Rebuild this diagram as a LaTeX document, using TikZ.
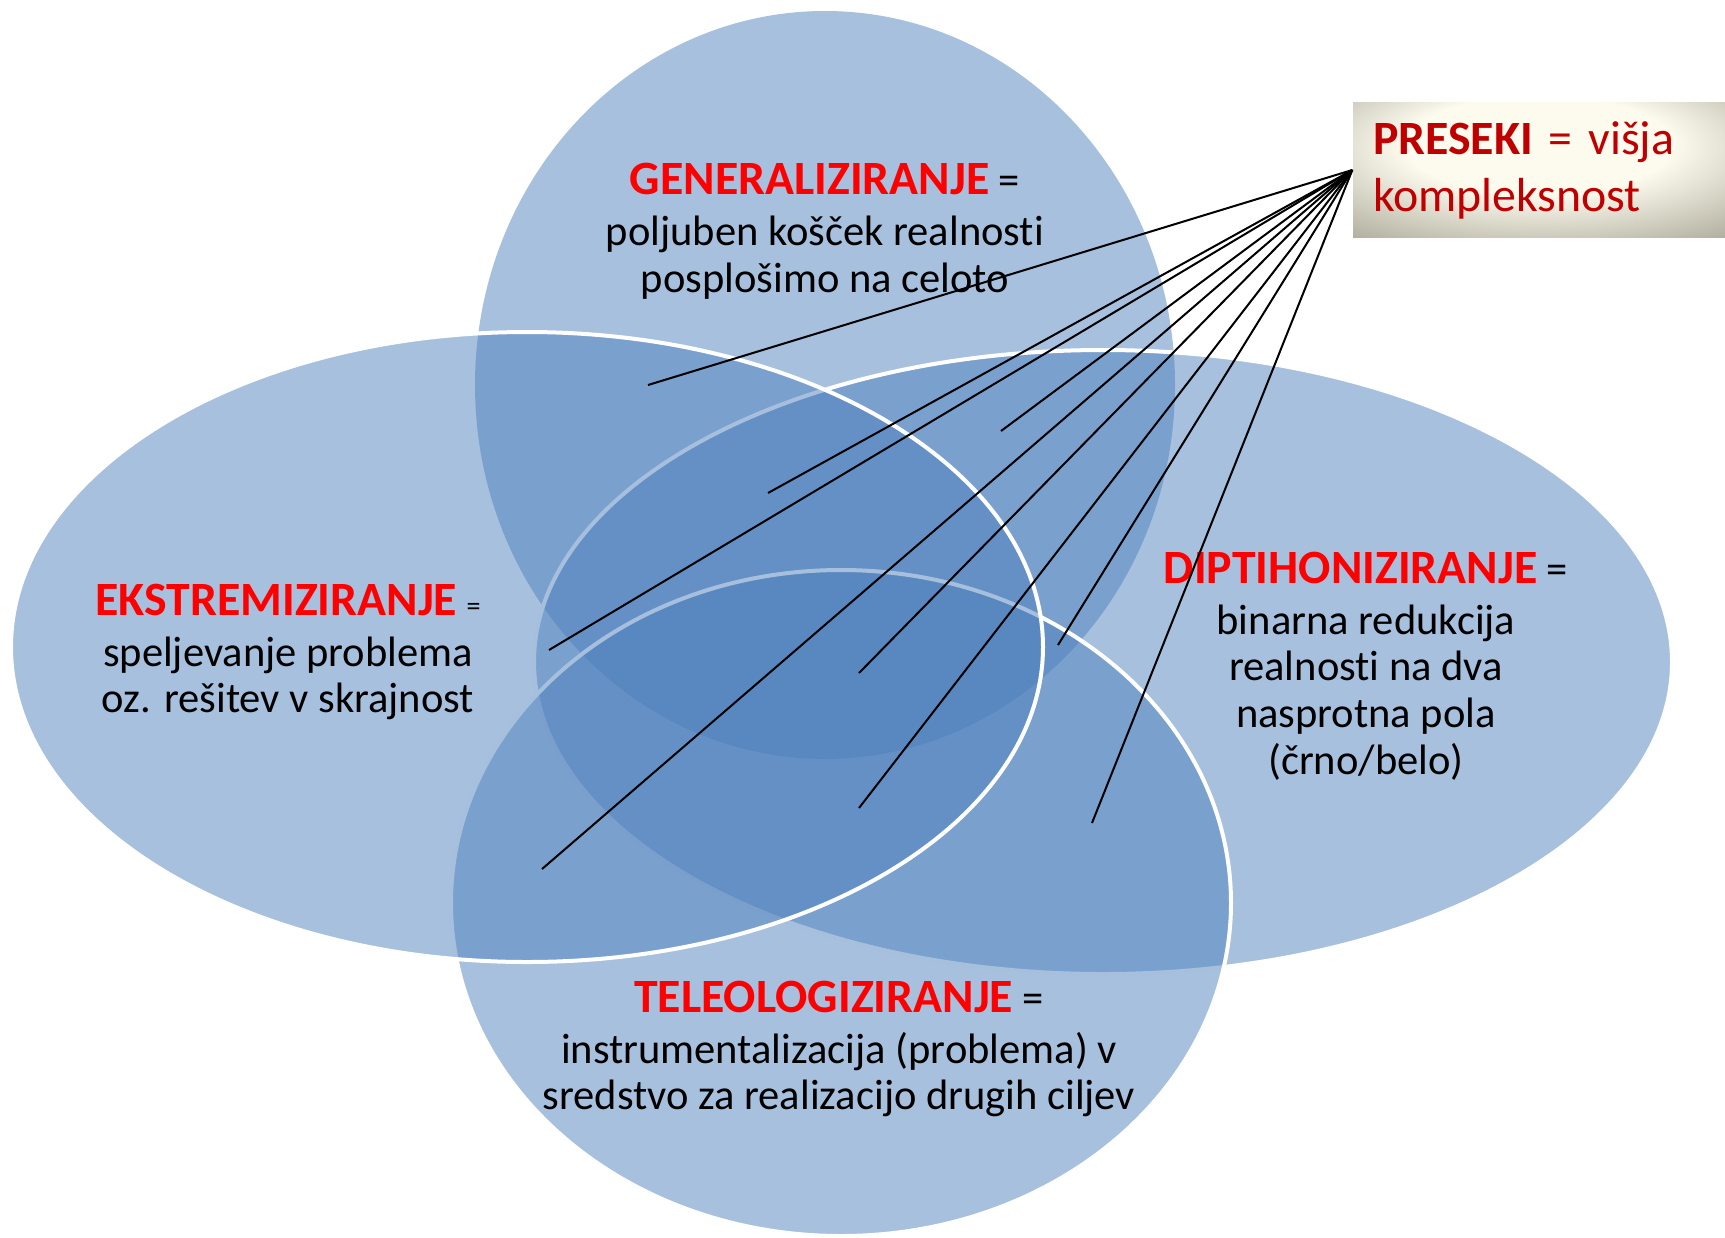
\documentclass[tikz,border=0pt]{standalone}
\usepackage{fontspec}
\setmainfont{Carlito}[Ligatures=NoCommon]
\definecolor{vennblue}{RGB}{79,129,189}
\definecolor{presred}{RGB}{192,0,0}
\definecolor{boxedge}{RGB}{136,133,116}
\definecolor{boxlight}{RGB}{253,251,238}
\pgfdeclareradialshading{presglow}{\pgfpoint{0bp}{12bp}}{color(0bp)=(boxlight); color(18bp)=(boxlight); color(52bp)=(boxedge); color(80bp)=(boxedge)}
% red headings
\newcommand{\hd}[2][red]{\textcolor{#1}{\bfseries #2}}
\newcommand{\hdsize}{\fontsize{13.6}{14}\selectfont}

\begin{document}
\begin{tikzpicture}[x=0.1mm,y=-0.1mm,
  blob/.style={fill=vennblue,fill opacity=0.5},
  rim/.style={draw=white,line width=0.4mm},
  venntext/.style={align=center,font=\fontsize{12.1}{13.3}\selectfont},
  ray/.style={draw=black,line width=0.2mm}]
\useasboundingbox (0,0) rectangle (1725,1237);

% the four sets
\fill[blob] (825,385) ellipse [x radius=35mm,y radius=37.4mm];
\filldraw[blob,rim] (1103,662) ellipse [x radius=56.9mm,y radius=31.2mm];
\filldraw[blob,rim] (841,903) ellipse [x radius=39mm,y radius=33.3mm];
\filldraw[blob,rim] (527,647) ellipse [x radius=51.6mm,y radius=31.5mm];

\node[venntext] (gen) at (825,231) {{\hdsize\hd{GENERALIZIRANJE}} =\\[1.2pt] poljuben košček realnosti\\ posplošimo na celoto};
\node[venntext] (ekst) at (288,652) {{\hdsize\hd{EKSTREMIZIRANJE}} {\fontsize{8}{9}\selectfont =}\\[1.2pt] speljevanje problema\\ oz. rešitev v skrajnost};
\node[venntext] (dipt) at (1366,666) {{\hdsize\hd{DIPTIHONIZIRANJE}} =\\[1.2pt] binarna redukcija\\ realnosti na dva\\ nasprotna pola\\ (črno/belo)};
\node[venntext] (tele) at (839,1049) {{\hdsize\hd{TELEOLOGIZIRANJE}} =\\[1.2pt] instrumentalizacija (problema) v\\ sredstvo za realizacijo drugih ciljev};

\node[shading=presglow,minimum width=37.2mm,minimum height=13.5mm,inner xsep=2mm,
  text width=33.2mm,align=left,text=presred,font=\fontsize{13.6}{16.2}\selectfont]
  (presek) at (1539,170) {\raisebox{-1pt}{\hd[presred]{PRESEKI} = višja}\\ \raisebox{-1pt}{kompleksnost}};

% intersections
\coordinate (p1) at (648,385);
\coordinate (p2) at (768,493);
\coordinate (p3) at (1001,431);
\coordinate (p4) at (549,650);
\coordinate (p5) at (542,869);
\coordinate (p6) at (859,673);
\coordinate (p7) at (859,808);
\coordinate (p8) at (1058,645);
\coordinate (p9) at (1092,823);
\foreach \i in {1,...,9}
  \draw[ray] (presek.west) -- (p\i);
\end{tikzpicture}
\end{document}
